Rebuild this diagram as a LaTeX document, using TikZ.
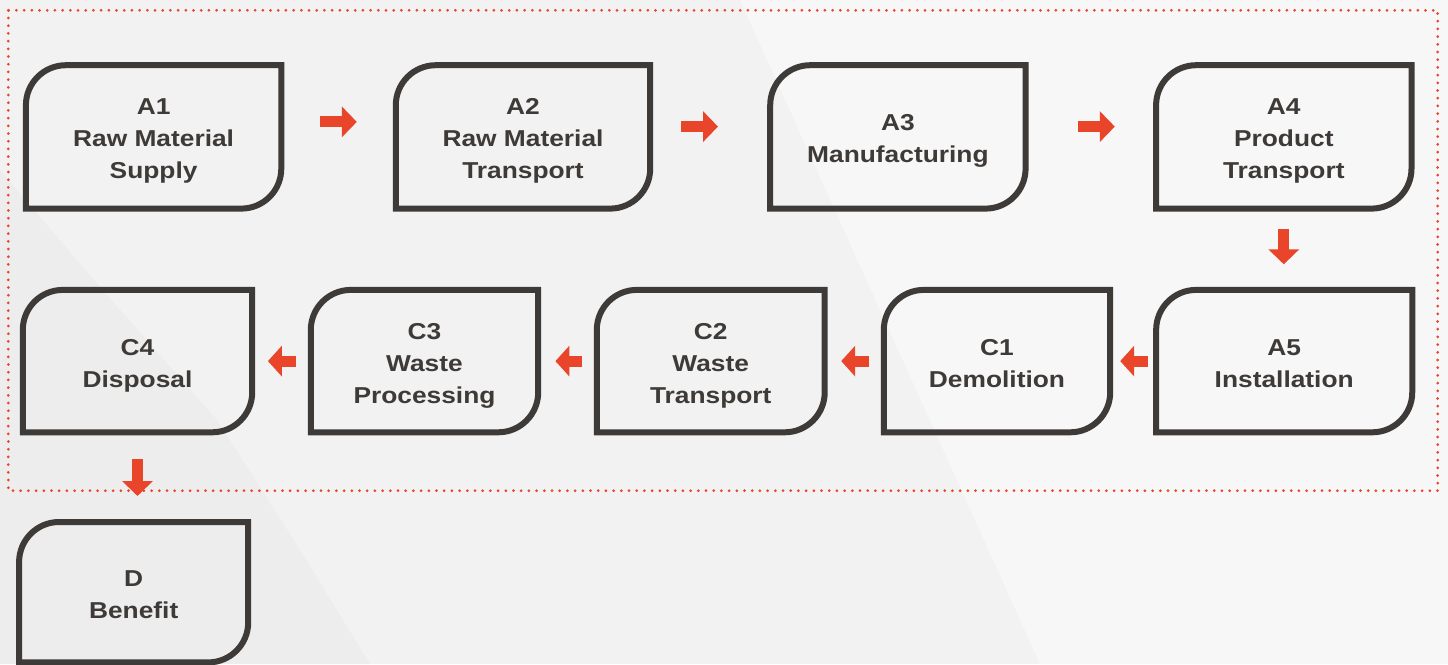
\documentclass[tikz,border=0pt]{standalone}
\usepackage{fontspec}
\setmainfont{Liberation Sans}[FakeStretch=1.145]
\usetikzlibrary{arrows.meta}

\definecolor{ink}{HTML}{3E3A37}
\definecolor{flowred}{HTML}{E9452A}
\definecolor{bgbase}{HTML}{F2F2F2}
\definecolor{bglight}{HTML}{F7F7F7}
\definecolor{bgdark}{HTML}{EDEDED}

\tikzset{
  stage/.style={draw=none, inner sep=0pt, text=ink,
    font=\fontsize{23pt}{32pt}\selectfont\bfseries, align=center,
    text depth=0pt},
  twoline/.style={text height=52pt},
  threeline/.style={text height=84pt},
  frame/.style={draw=ink, line width=6pt, line join=miter},
  flow/.style={draw=flowred, line width=11pt,
    -{Triangle[width=30pt,length=15pt]}},
  backflow/.style={draw=flowred, line width=11pt,
    -{Triangle[width=30pt,length=14pt]}},
  dotframe/.style={draw=flowred, line width=3pt, line cap=round,
    dash pattern=on 0pt off 7.7pt}
}

% outline with rounded top-left and bottom-right corners
\newcommand\stageframe[1]{%
  \draw[frame] (#1.south west) -- ([yshift=-40pt]#1.north west)
    arc[start angle=180, end angle=90, radius=40pt]
    -- (#1.north east) -- ([yshift=40pt]#1.south east)
    arc[start angle=0, end angle=-90, radius=40pt] -- cycle;}

\begin{document}
\begin{tikzpicture}[x=1pt, y=-1pt]
  \useasboundingbox (0,0) rectangle (1448,664);

  % background shading
  \fill[bgbase] (0,0) rectangle (1448,664);
  \fill[bglight] (740,0) -- (1448,0) -- (1448,664) -- (1040,664) -- cycle;
  \fill[bgdark] (0,170) -- (85,270) -- (217,420) -- (300,550) -- (370,664) -- (0,664) -- cycle;

  % system boundary
  \draw[dotframe] (8.3,10.3) rectangle (1437.7,490.7);

  % top row
  \node[stage, threeline, minimum width=255pt, minimum height=143pt] (a1) at (153.6,136.9) {A1\\Raw Material\\Supply};
  \node[stage, threeline, minimum width=254pt, minimum height=143pt] (a2) at (523,136.9) {A2\\Raw Material\\Transport};
  \node[stage, twoline,   minimum width=255pt, minimum height=143pt] (a3) at (897.9,136.9) {A3\\Manufacturing};
  \node[stage, threeline, minimum width=255pt, minimum height=143pt] (a4) at (1283.8,136.9) {A4\\Product\\Transport};

  % second row
  \node[stage, twoline,   minimum width=255.7pt, minimum height=142pt] (a5) at (1284.2,361.1) {A5\\Installation};
  \node[stage, twoline,   minimum width=226pt,   minimum height=142pt] (c1) at (997,361.1) {C1\\Demolition};
  \node[stage, threeline, minimum width=227.5pt, minimum height=142pt] (c2) at (710.75,361.1) {C2\\Waste\\Transport};
  \node[stage, threeline, minimum width=227pt,   minimum height=142pt] (c3) at (424.5,361.1) {C3\\Waste\\Processing};
  \node[stage, twoline,   minimum width=229pt,   minimum height=142pt] (c4) at (137.5,361.1) {C4\\Disposal};

  % beyond the boundary
  \node[stage, twoline, minimum width=228.7pt, minimum height=140pt] (d) at (133.65,592.2) {D\\Benefit};

  \foreach \n in {a1,a2,a3,a4,a5,c1,c2,c3,c4,d} {\stageframe{\n}}

  % flow arrows
  \draw[flow] ([shift={(39pt,15pt)}]a1.east) -- ([shift={(-39pt,15pt)}]a2.west);
  \draw[flow] ([shift={(31pt,10.3pt)}]a2.east) -- ([shift={(-52.2pt,10.3pt)}]a3.west);
  \draw[flow] ([shift={(52.4pt,10.3pt)}]a3.east) -- ([shift={(-41.3pt,10.3pt)}]a4.west);
  \draw[flow] ([yshift=-20pt]a4.south) -- ++(0,35.7);
  \draw[backflow] ([xshift=-8pt]a5.west) -- ([xshift=10pt]c1.east);
  \draw[backflow] ([xshift=-15pt]c1.west) -- ([xshift=16.5pt]c2.east);
  \draw[backflow] ([xshift=-14.7pt]c2.west) -- ([xshift=17.2pt]c3.east);
  \draw[backflow] ([xshift=-15pt]c3.west) -- ([xshift=15.7pt]c4.east);
  \draw[flow] ([yshift=-26.7pt]c4.south) -- ++(0,37);
\end{tikzpicture}
\end{document}
